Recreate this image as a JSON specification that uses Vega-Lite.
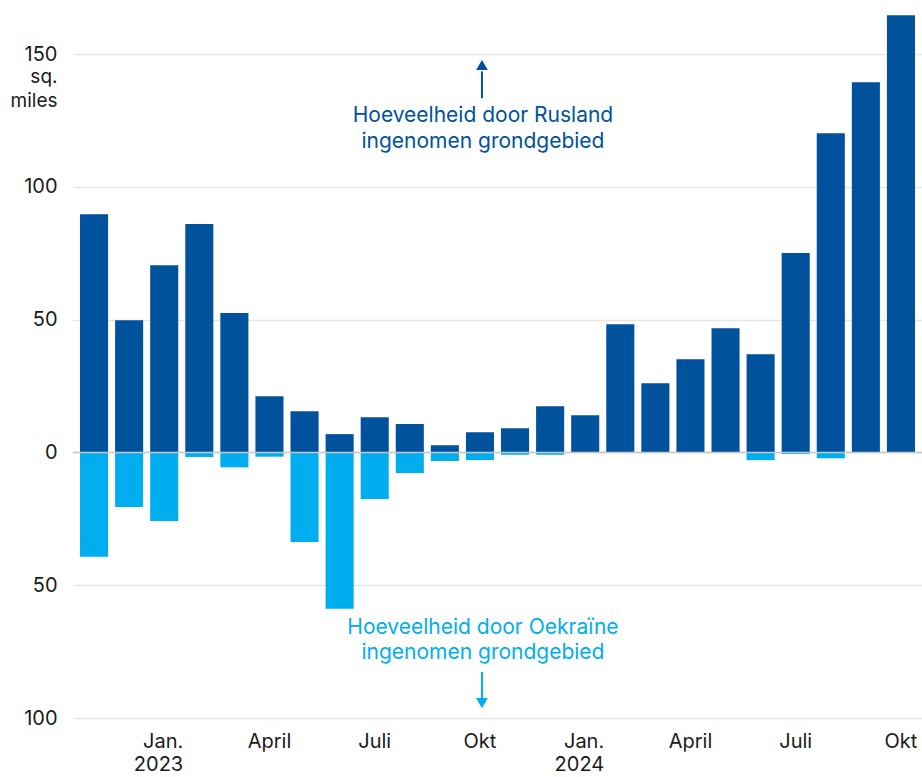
{
  "$schema": "https://vega.github.io/schema/vega-lite/v6.json",
  "width": 849,
  "height": 717,
  "autosize": {"type": "none"},
  "padding": {"left": 73, "top": 1, "right": 0, "bottom": 59},
  "background": "white",
  "config": {"font": "Inter", "view": {"stroke": null}},
  "data": {
    "values": [
      {"month": "2022-11", "russia": 89.7, "ukraine": -39.3},
      {"month": "2022-12", "russia": 49.8, "ukraine": -20.5},
      {"month": "2023-01", "russia": 70.5, "ukraine": -25.8},
      {"month": "2023-02", "russia": 86.0, "ukraine": -1.7},
      {"month": "2023-03", "russia": 52.5, "ukraine": -5.6},
      {"month": "2023-04", "russia": 21.2, "ukraine": -1.6},
      {"month": "2023-05", "russia": 15.5, "ukraine": -33.7},
      {"month": "2023-06", "russia": 6.9, "ukraine": -58.9},
      {"month": "2023-07", "russia": 13.3, "ukraine": -17.5},
      {"month": "2023-08", "russia": 10.7, "ukraine": -7.7},
      {"month": "2023-09", "russia": 2.7, "ukraine": -3.2},
      {"month": "2023-10", "russia": 7.6, "ukraine": -2.8},
      {"month": "2023-11", "russia": 9.1, "ukraine": -0.9},
      {"month": "2023-12", "russia": 17.4, "ukraine": -0.9},
      {"month": "2024-01", "russia": 14.0, "ukraine": 0},
      {"month": "2024-02", "russia": 48.3, "ukraine": 0},
      {"month": "2024-03", "russia": 26.1, "ukraine": 0},
      {"month": "2024-04", "russia": 35.1, "ukraine": 0},
      {"month": "2024-05", "russia": 46.8, "ukraine": 0},
      {"month": "2024-06", "russia": 37.0, "ukraine": -2.9},
      {"month": "2024-07", "russia": 75.1, "ukraine": -0.6},
      {"month": "2024-08", "russia": 120.2, "ukraine": -2.2},
      {"month": "2024-09", "russia": 139.4, "ukraine": 0},
      {"month": "2024-10", "russia": 164.6, "ukraine": 0}
    ]
  },
  "encoding": {
    "x": {
      "field": "month",
      "type": "ordinal",
      "scale": {"paddingInner": 0.2, "paddingOuter": 0.2},
      "axis": {
        "title": null,
        "domain": false,
        "ticks": false,
        "grid": false,
        "labelAngle": 0,
        "values": ["2023-01", "2023-04", "2023-07", "2023-10", "2024-01", "2024-04", "2024-07", "2024-10"],
        "labelExpr": "slice(datum.value,5)=='01' ? ['Jan.', slice(datum.value,0,4)] : slice(datum.value,5)=='04' ? 'April' : slice(datum.value,5)=='07' ? 'Juli' : 'Okt'",
        "labelAlign": {"expr": "slice(datum.value,5)=='01' ? 'right' : 'center'"},
        "labelOffset": {"expr": "slice(datum.value,5)=='01' ? 19 : 0"},
        "labelFontSize": 20,
        "labelColor": "#1a1a1a",
        "labelPadding": 13,
        "labelLineHeight": 23,
        "labelBaseline": "top"
      }
    }
  },
  "layer": [
    {
      "mark": {"type": "bar", "color": "#00529C"},
      "encoding": {
        "y": {
          "field": "russia",
          "type": "quantitative",
          "scale": {"domain": [-100, 170], "nice": false, "zero": true},
          "axis": {
            "values": [-100, -50, 0, 50, 100, 150],
            "labelExpr": "abs(datum.value)",
            "domain": false,
            "ticks": false,
            "gridColor": "#e6e6e6",
            "gridWidth": 1.5,
            "labelFontSize": 20,
            "labelColor": "#1a1a1a",
            "labelPadding": 16,
            "title": ["sq.", "miles"],
            "titleAngle": 0,
            "titleAlign": "right",
            "titleBaseline": "alphabetic",
            "titleX": -16,
            "titleY": 81,
            "titleFontSize": 19,
            "titleFontWeight": "normal",
            "titleLineHeight": 24,
            "titleColor": "#1a1a1a"
          }
        },
        "y2": {"datum": 0}
      }
    },
    {
      "mark": {"type": "bar", "color": "#00AEEF"},
      "encoding": {
        "y": {"field": "ukraine", "type": "quantitative"},
        "y2": {"datum": 0}
      }
    },
    {
      "data": {"values": [{"v": 0}]},
      "mark": {"type": "rule", "color": "#c8c8c8", "strokeWidth": 1.5},
      "encoding": {"y": {"field": "v", "type": "quantitative"}, "x": null}
    },
    {
      "data": {"values": [{"month": "2023-10", "v": 126.6, "label": ["Hoeveelheid door Rusland", "ingenomen grondgebied"]}]},
      "mark": {"type": "text", "color": "#00529C", "fontSize": 21, "align": "center", "baseline": "middle", "lineHeight": 26, "dx": 3},
      "encoding": {"y": {"field": "v", "type": "quantitative"}, "text": {"field": "label"}}
    },
    {
      "data": {"values": [{"month": "2023-10", "v": -66.2, "label": ["Hoeveelheid door Oekraïne", "ingenomen grondgebied"]}]},
      "mark": {"type": "text", "color": "#00AEEF", "fontSize": 21, "align": "center", "baseline": "middle", "lineHeight": 25, "dx": 3},
      "encoding": {"y": {"field": "v", "type": "quantitative"}, "text": {"field": "label"}}
    },
    {
      "data": {"values": [{"month": "2023-10", "a": 133.4, "b": 143.5}]},
      "mark": {"type": "rule", "color": "#00529C", "strokeWidth": 2, "xOffset": 2},
      "encoding": {"y": {"field": "a", "type": "quantitative"}, "y2": {"field": "b"}}
    },
    {
      "data": {"values": [{"month": "2023-10", "v": 145.9}]},
      "mark": {"type": "point", "shape": "triangle-up", "filled": true, "color": "#00529C", "opacity": 1, "size": 140, "xOffset": 2},
      "encoding": {"y": {"field": "v", "type": "quantitative"}}
    },
    {
      "data": {"values": [{"month": "2023-10", "a": -82.7, "b": -92.5}]},
      "mark": {"type": "rule", "color": "#00AEEF", "strokeWidth": 2, "xOffset": 2},
      "encoding": {"y": {"field": "a", "type": "quantitative"}, "y2": {"field": "b"}}
    },
    {
      "data": {"values": [{"month": "2023-10", "v": -94.4}]},
      "mark": {"type": "point", "shape": "triangle-down", "filled": true, "color": "#00AEEF", "opacity": 1, "size": 140, "xOffset": 2},
      "encoding": {"y": {"field": "v", "type": "quantitative"}}
    }
  ]
}
